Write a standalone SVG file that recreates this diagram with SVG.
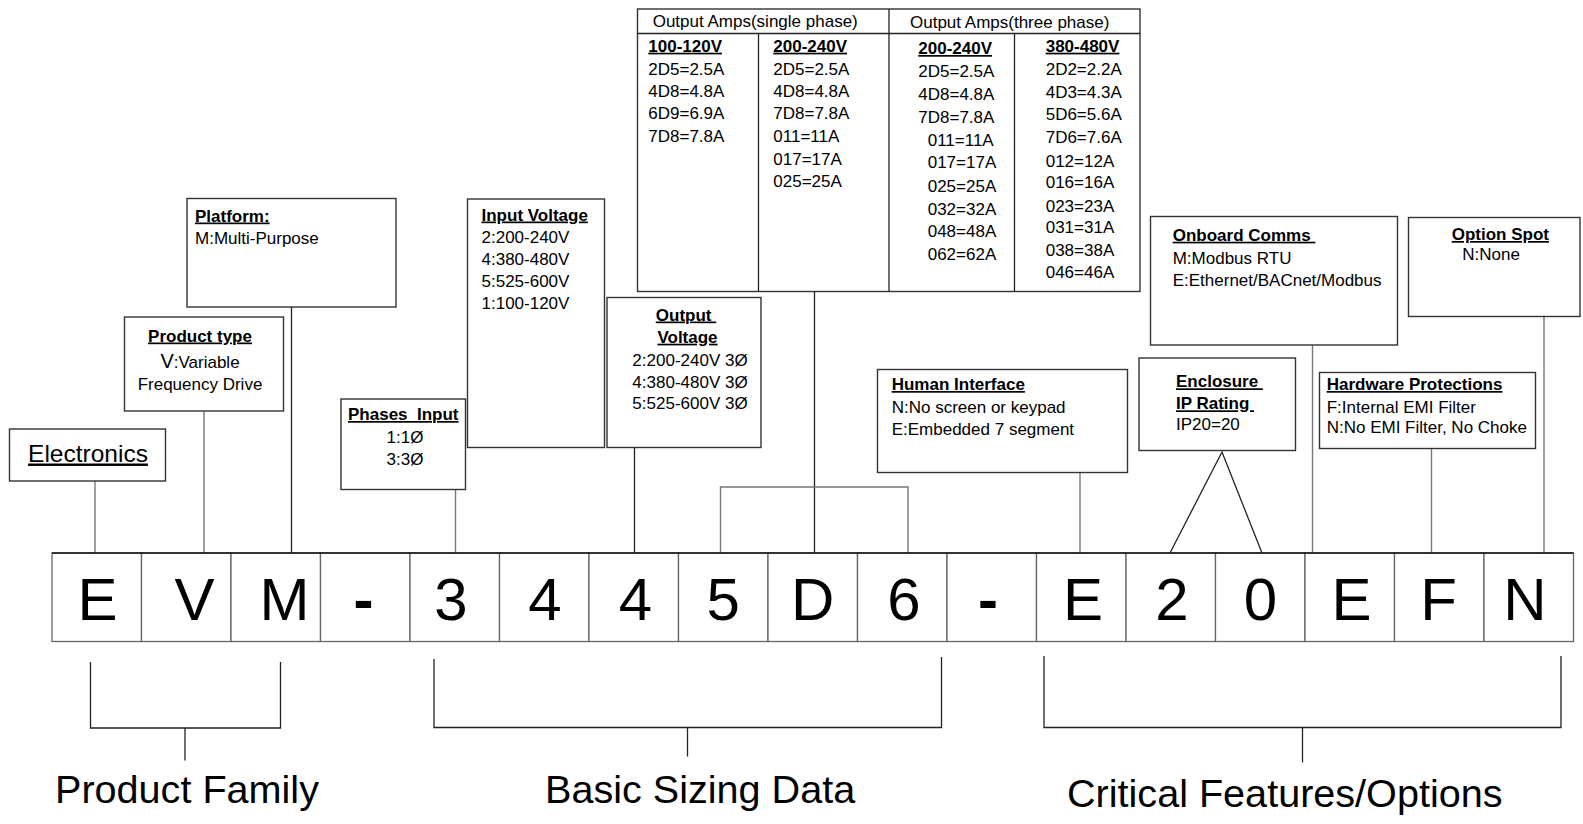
<svg xmlns="http://www.w3.org/2000/svg" width="1583" height="824" viewBox="0 0 1583 824">
<style>
text{font-family:"Liberation Sans",Arial,sans-serif;fill:#000}
.t{font-size:17px}
.h{font-size:17px;font-weight:bold;text-decoration:underline}
.c{text-anchor:middle}
.box{fill:#fff;stroke:#333;stroke-width:1.4}
.cell{fill:#fff;stroke:#666;stroke-width:1.3}
.code{font-size:60px;text-anchor:middle}
.dash{font-weight:bold}
.big{font-size:39.6px}
.lk{stroke:#222;stroke-width:1.3;fill:none}
.lg{stroke:#777;stroke-width:1.4;fill:none}
</style>
<rect width="1583" height="824" fill="#fff"/>

<g id="connectors">
<line class="lg" x1="95" y1="481" x2="95" y2="553"/>
<line class="lg" x1="204" y1="411" x2="204" y2="553"/>
<line class="lk" x1="291.5" y1="307" x2="291.5" y2="553"/>
<line class="lg" x1="455.5" y1="489" x2="455.5" y2="553"/>
<line class="lk" x1="634.5" y1="447.5" x2="634.5" y2="553"/>
<line class="lk" x1="814.5" y1="291.5" x2="814.5" y2="553"/>
<polyline class="lg" points="720.5,553 720.5,487 908,487 908,553"/>
<line class="lg" x1="1080" y1="472.5" x2="1080" y2="553"/>
<polyline class="lk" points="1170,553 1222,452 1262,553"/>
<line class="lg" x1="1312.5" y1="345" x2="1312.5" y2="553"/>
<line class="lg" x1="1431.5" y1="448" x2="1431.5" y2="553"/>
<line class="lg" x1="1544" y1="316.5" x2="1544" y2="553"/>
<polyline class="lk" points="90.5,662 90.5,728 280.5,728 280.5,662"/>
<line class="lk" x1="185" y1="728" x2="185" y2="760.5"/>
<polyline class="lk" points="434,659 434,727.5 941.5,727.5 941.5,657"/>
<line class="lk" x1="687.5" y1="727.5" x2="687.5" y2="756.5"/>
<polyline class="lk" points="1044,656 1044,727.5 1561,727.5 1561,656"/>
<line class="lk" x1="1302.5" y1="727.5" x2="1302.5" y2="762.5"/>
</g>

<g id="code">
<g id="cell-0"><rect class="cell" x="52" y="553" width="89.5" height="88.5"/><text class="code" x="97.5" y="620">E</text></g>
<g id="cell-1"><rect class="cell" x="141.5" y="553" width="89.5" height="88.5"/><text class="code" x="194.5" y="620">V</text></g>
<g id="cell-2"><rect class="cell" x="231" y="553" width="89.5" height="88.5"/><text class="code" x="284.5" y="620">M</text></g>
<g id="cell-3"><rect class="cell" x="320.5" y="553" width="89.5" height="88.5"/><text class="code dash" x="363.5" y="620">-</text></g>
<g id="cell-4"><rect class="cell" x="410" y="553" width="89.5" height="88.5"/><text class="code" x="451" y="620">3</text></g>
<g id="cell-5"><rect class="cell" x="499.5" y="553" width="89.5" height="88.5"/><text class="code" x="545" y="620">4</text></g>
<g id="cell-6"><rect class="cell" x="589" y="553" width="89.5" height="88.5"/><text class="code" x="635.5" y="620">4</text></g>
<g id="cell-7"><rect class="cell" x="678.5" y="553" width="89.5" height="88.5"/><text class="code" x="723.25" y="620">5</text></g>
<g id="cell-8"><rect class="cell" x="768" y="553" width="89.5" height="88.5"/><text class="code" x="812.75" y="620">D</text></g>
<g id="cell-9"><rect class="cell" x="857.5" y="553" width="89.5" height="88.5"/><text class="code" x="904" y="620">6</text></g>
<g id="cell-10"><rect class="cell" x="947" y="553" width="89.5" height="88.5"/><text class="code dash" x="988" y="620">-</text></g>
<g id="cell-11"><rect class="cell" x="1036.5" y="553" width="89.5" height="88.5"/><text class="code" x="1083" y="620">E</text></g>
<g id="cell-12"><rect class="cell" x="1126" y="553" width="89.5" height="88.5"/><text class="code" x="1172" y="620">2</text></g>
<g id="cell-13"><rect class="cell" x="1215.5" y="553" width="89.5" height="88.5"/><text class="code" x="1260.5" y="620">0</text></g>
<g id="cell-14"><rect class="cell" x="1305" y="553" width="89.5" height="88.5"/><text class="code" x="1351.5" y="620">E</text></g>
<g id="cell-15"><rect class="cell" x="1394.5" y="553" width="89.5" height="88.5"/><text class="code" x="1438.5" y="620">F</text></g>
<g id="cell-16"><rect class="cell" x="1484" y="553" width="89.5" height="88.5"/><text class="code" x="1525" y="620">N</text></g>
<line x1="52" y1="553" x2="1573.5" y2="553" stroke="#111" stroke-width="1.5"/>
</g>

<g id="electronics">
<rect class="box" x="9.5" y="429" width="156" height="52"/>
<text x="88" y="461.5" font-size="24.5" text-anchor="middle" text-decoration="underline">Electronics</text>
</g>

<g id="product-type">
<rect class="box" x="124.5" y="317" width="159" height="94"/>
<text class="h c" x="200" y="341.5">Product type</text>
<text class="t c" x="200" y="367.5"><tspan font-size="20">V</tspan>:Variable</text>
<text class="t c" x="200" y="389.5">Frequency Drive</text>
</g>

<g id="platform">
<rect class="box" x="187" y="198.5" width="209" height="108.5"/>
<text class="h" x="195" y="221.5">Platform:</text>
<text class="t" x="195" y="243.5">M:Multi-Purpose</text>
</g>

<g id="phases-input">
<rect class="box" x="341" y="399" width="124.5" height="90.5"/>
<text class="h" x="348" y="420">Phases&#160; Input</text>
<text class="t c" x="405" y="442.5">1:1Ø</text>
<text class="t c" x="405" y="465">3:3Ø</text>
</g>

<g id="input-voltage">
<rect class="box" x="467.5" y="199" width="137" height="248.5"/>
<text class="h" x="481.5" y="220.5">Input Voltage</text>
<text class="t" x="481.5" y="243.3">2:200-240V</text>
<text class="t" x="481.5" y="265.3">4:380-480V</text>
<text class="t" x="481.5" y="287.3">5:525-600V</text>
<text class="t" x="481.5" y="309.3">1:100-120V</text>
</g>

<g id="output-voltage">
<rect class="box" x="607" y="297.5" width="154" height="150"/>
<text class="h c" x="686" y="320.5">Output&#160;</text>
<text class="h c" x="687.5" y="342.7">Voltage</text>
<text class="t c" x="690" y="365.7">2:200-240V 3Ø</text>
<text class="t c" x="690" y="387.5">4:380-480V 3Ø</text>
<text class="t c" x="690" y="409.3">5:525-600V 3Ø</text>
</g>

<g id="output-amps">
<rect class="box" x="637.5" y="9" width="502.5" height="282.5"/>
<line class="lk" x1="637.5" y1="33.5" x2="1140" y2="33.5" stroke="#333"/>
<line class="lk" x1="889" y1="9" x2="889" y2="291.5"/>
<line class="lk" x1="758.5" y1="33.5" x2="758.5" y2="291.5"/>
<line class="lk" x1="1014.5" y1="33.5" x2="1014.5" y2="291.5"/>
<text class="t" x="652.7" y="26.7">Output Amps(single phase)</text>
<text class="t" x="910" y="28.3">Output Amps(three phase)</text>
<text class="h" x="648.3" y="51.7">100-120V</text>
<text class="t" x="648.3" y="75">2D5=2.5A</text>
<text class="t" x="648.3" y="97">4D8=4.8A</text>
<text class="t" x="648.3" y="119.3">6D9=6.9A</text>
<text class="t" x="648.3" y="141.7">7D8=7.8A</text>
<text class="h" x="773.3" y="51.7">200-240V</text>
<text class="t" x="773.3" y="75">2D5=2.5A</text>
<text class="t" x="773.3" y="97">4D8=4.8A</text>
<text class="t" x="773.3" y="119.3">7D8=7.8A</text>
<text class="t" x="773.3" y="141.7">011=11A</text>
<text class="t" x="773.3" y="165">017=17A</text>
<text class="t" x="773.3" y="187.3">025=25A</text>
<text class="h" x="918.3" y="54">200-240V</text>
<text class="t" x="918.3" y="77.3">2D5=2.5A</text>
<text class="t" x="918.3" y="100">4D8=4.8A</text>
<text class="t" x="918.3" y="123.3">7D8=7.8A</text>
<text class="t" x="927.7" y="145.7">011=11A</text>
<text class="t" x="927.7" y="168.3">017=17A</text>
<text class="t" x="927.7" y="191.7">025=25A</text>
<text class="t" x="927.7" y="215">032=32A</text>
<text class="t" x="927.7" y="236.7">048=48A</text>
<text class="t" x="927.7" y="260">062=62A</text>
<text class="h" x="1045.7" y="51.7">380-480V</text>
<text class="t" x="1045.7" y="75">2D2=2.2A</text>
<text class="t" x="1045.7" y="98.3">4D3=4.3A</text>
<text class="t" x="1045.7" y="120">5D6=5.6A</text>
<text class="t" x="1045.7" y="143.3">7D6=7.6A</text>
<text class="t" x="1045.7" y="166.7">012=12A</text>
<text class="t" x="1045.7" y="188.3">016=16A</text>
<text class="t" x="1045.7" y="211.7">023=23A</text>
<text class="t" x="1045.7" y="233.3">031=31A</text>
<text class="t" x="1045.7" y="256">038=38A</text>
<text class="t" x="1045.7" y="278.3">046=46A</text>
</g>

<g id="human-interface">
<rect class="box" x="877.5" y="369.5" width="250" height="103"/>
<text class="h" x="891.7" y="390">Human Interface</text>
<text class="t" x="891.7" y="412.7">N:No screen or keypad</text>
<text class="t" x="891.7" y="435">E:Embedded 7 segment</text>
</g>

<g id="enclosure">
<rect class="box" x="1139" y="358" width="156.5" height="92.5"/>
<text class="h" x="1176" y="387.3">Enclosure&#160;</text>
<text class="h" x="1176" y="409.3">IP Rating&#160;</text>
<text class="t" x="1176" y="430">IP20=20</text>
</g>

<g id="onboard-comms">
<rect class="box" x="1150.5" y="216.5" width="247" height="128.5"/>
<text class="h" x="1172.7" y="240.7">Onboard Comms&#160;</text>
<text class="t" x="1172.7" y="264.3">M:Modbus RTU</text>
<text class="t" x="1172.7" y="286">E:Ethernet/BACnet/Modbus</text>
</g>

<g id="option-spot">
<rect class="box" x="1408.5" y="217.5" width="171.5" height="99"/>
<text class="h" x="1451.7" y="240">Option Spot</text>
<text class="t" x="1462.3" y="260">N:None</text>
</g>

<g id="hardware-protections">
<rect class="box" x="1319.5" y="372.5" width="216" height="76"/>
<text class="h" x="1326.7" y="390">Hardware Protections</text>
<text class="t" x="1326.7" y="413.3">F:Internal EMI Filter</text>
<text class="t" x="1326.7" y="432.7">N:No EMI Filter, No Choke</text>
</g>

<g id="product-family"><text class="big" x="55" y="803.3">Product Family</text></g>
<g id="basic-sizing"><text class="big" x="545" y="802.5">Basic Sizing Data</text></g>
<g id="critical-features"><text class="big" x="1067" y="806.7">Critical Features/Options</text></g>
</svg>
